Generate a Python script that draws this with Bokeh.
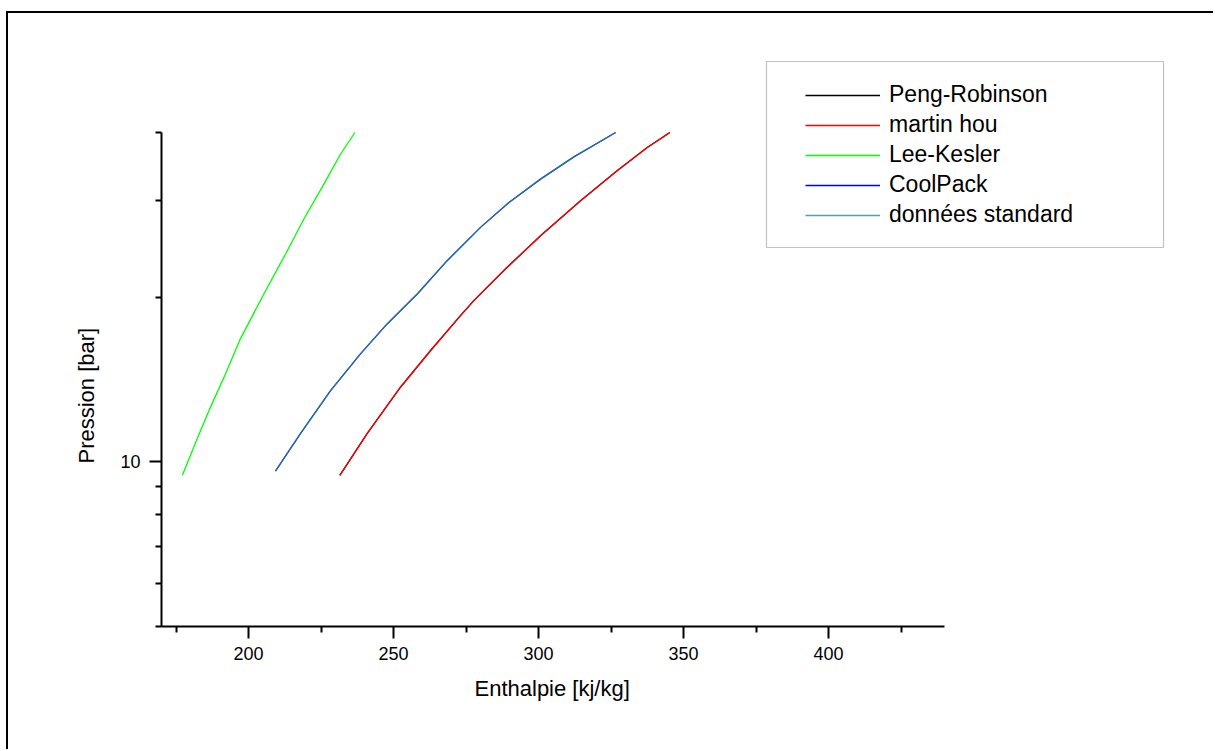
from bokeh.plotting import figure
from bokeh.models import Legend, LegendItem, FixedTicker, BoxAnnotation, Range1d, Title
from bokeh.embed import file_html
from bokeh.resources import INLINE

# ---- data ----
series_names = ["Peng-Robinson", "martin hou", "Lee-Kesler", "CoolPack", "données standard"]

pr_h = [231.5, 240.9, 252.4, 262.8, 273.1, 277.7, 289.2, 300.7, 314.5, 327.1, 337.5, 345.3]
pr_p = [9.45, 11.26, 13.69, 15.98, 18.5, 19.71, 22.68, 25.9, 30.0, 34.04, 37.54, 40.0]

mh_h = [231.5, 240.9, 252.4, 262.8, 273.1, 277.7, 289.2, 300.7, 314.5, 327.1, 337.5, 345.3]
mh_p = [9.45, 11.26, 13.69, 15.98, 18.5, 19.71, 22.68, 25.9, 30.0, 34.04, 37.54, 40.0]

lk_h = [177.2, 182.3, 186.9, 192.1, 197.2, 205.3, 212.8, 219.1, 226.0, 231.7, 236.7]
lk_p = [9.45, 11.02, 12.59, 14.49, 16.78, 20.27, 23.99, 27.79, 32.19, 36.5, 40.0]

cp_h = [209.3, 217.9, 228.3, 238.6, 247.8, 258.2, 268.5, 280.0, 289.8, 300.7, 312.2, 326.6]
cp_p = [9.62, 11.26, 13.5, 15.75, 17.87, 20.27, 23.32, 26.83, 29.8, 32.87, 36.1, 40.0]

ds_h = [209.3, 217.9, 228.3, 238.6, 247.8, 258.2, 268.5, 280.0, 289.8, 300.7, 312.2, 326.6]
ds_p = [9.62, 11.26, 13.5, 15.75, 17.87, 20.27, 23.32, 26.83, 29.8, 32.87, 36.1, 40.0]

x_label = "Enthalpie [kj/kg]"
y_label = "Pression [bar]"
x_bounds = (170, 440)
y_bounds = (5, 40)
x_major = [200, 250, 300, 350, 400]
x_minor = [175, 225, 275, 325, 375, 425]
y_major = [10]
y_minor = [5, 6, 7, 8, 9, 20, 30, 40]

FONT = "Liberation Sans"

# page offset of the figure canvas (margin + 2px CSS border)
OX, OY = 8, 13
W, H = 1215 - OX, 751 - OY
left_b, bottom_b, top_b, right_b = 161 - OX, H - (626 - OY), 20, 20
frame_w = W - left_b - right_b
frame_h = H - bottom_b - top_b
px_per_unit = 783 / (x_bounds[1] - x_bounds[0])
px_per_dec = 494 / 0.903089987
x_end = x_bounds[0] + frame_w / px_per_unit
y_end = 10 ** (0.698970004 + frame_h / px_per_dec)

p = figure(width=W, height=H, y_axis_type="log",
           x_range=Range1d(x_bounds[0], x_end), y_range=Range1d(y_bounds[0], y_end),
           output_backend="svg", toolbar_location=None,
           min_border_left=left_b, min_border_right=right_b,
           min_border_top=top_b, min_border_bottom=bottom_b)
p.margin = (OY - 2, 0, 0, OX - 2)
p.styles = {"border-left": "2px solid black", "border-top": "2px solid black"}
p.background_fill_color = "white"
p.border_fill_color = "white"
p.outline_line_color = None
p.xgrid.visible = False
p.ygrid.visible = False

r_pr = p.line(pr_h, pr_p, line_color="black", line_width=1.3)
r_mh = p.line(mh_h, mh_p, line_color="#ff0000", line_width=1.3)
r_lk = p.line(lk_h, lk_p, line_color="#00ff00", line_width=1.3)
r_cp = p.line(cp_h, cp_p, line_color="#0000ff", line_width=1.3)
r_ds = p.line(ds_h, ds_p, line_color="#2a8a8a", line_width=1.3, line_alpha=0.8)

for ax in (p.xaxis[0], p.yaxis[0]):
    ax.axis_line_width = 2
    ax.major_tick_line_width = 2
    ax.minor_tick_line_width = 2
    ax.major_tick_in = 0
    ax.minor_tick_in = 0
    ax.major_tick_out = 12
    ax.minor_tick_out = 6
    ax.major_label_text_font = FONT
    ax.major_label_text_font_size = "18px"
    ax.major_label_text_color = "black"

p.xaxis.bounds = x_bounds
p.yaxis.bounds = y_bounds
p.xaxis.ticker = FixedTicker(ticks=x_major, minor_ticks=x_minor)
p.yaxis.ticker = FixedTicker(ticks=y_major, minor_ticks=y_minor)
p.yaxis.major_label_overrides = {10: "10"}
p.xaxis.major_label_standoff = 8
p.yaxis.major_label_standoff = 9

# axis titles, positioned along the bounded axes
tx = Title(text=x_label, align="left", offset=474 - 161, standoff=22,
           text_font=FONT, text_font_size="22px", text_font_style="normal",
           text_color="black")
p.add_layout(tx, "below")
ty = Title(text=y_label, align="left", offset=626 - 463, standoff=37,
           text_font=FONT, text_font_size="22px", text_font_style="normal",
           text_color="black")
p.add_layout(ty, "left")

# legend box
p.add_layout(BoxAnnotation(left=766 - OX - 2, right=1163 - OX - 2, top=61 - OY - 2, bottom=247 - OY - 2,
                           left_units="canvas", right_units="canvas",
                           top_units="canvas", bottom_units="canvas",
                           fill_alpha=0, line_color="#333333", line_width=1.2))

legend = Legend(items=[LegendItem(label=series_names[0], renderers=[r_pr]),
                       LegendItem(label=series_names[1], renderers=[r_mh]),
                       LegendItem(label=series_names[2], renderers=[r_lk]),
                       LegendItem(label=series_names[3], renderers=[r_cp]),
                       LegendItem(label=series_names[4], renderers=[r_ds])],
                location=(795 - 161, 388))
legend.border_line_alpha = 0
legend.background_fill_alpha = 0
legend.padding = 10
legend.margin = 0
legend.spacing = 3
legend.glyph_width = 75
legend.glyph_height = 20
legend.label_height = 20
legend.label_standoff = 9
legend.label_text_font = FONT
legend.label_text_font_size = "23px"
legend.label_text_color = "black"
p.add_layout(legend, "center")

open("out.html", "w").write(file_html(p, INLINE))
